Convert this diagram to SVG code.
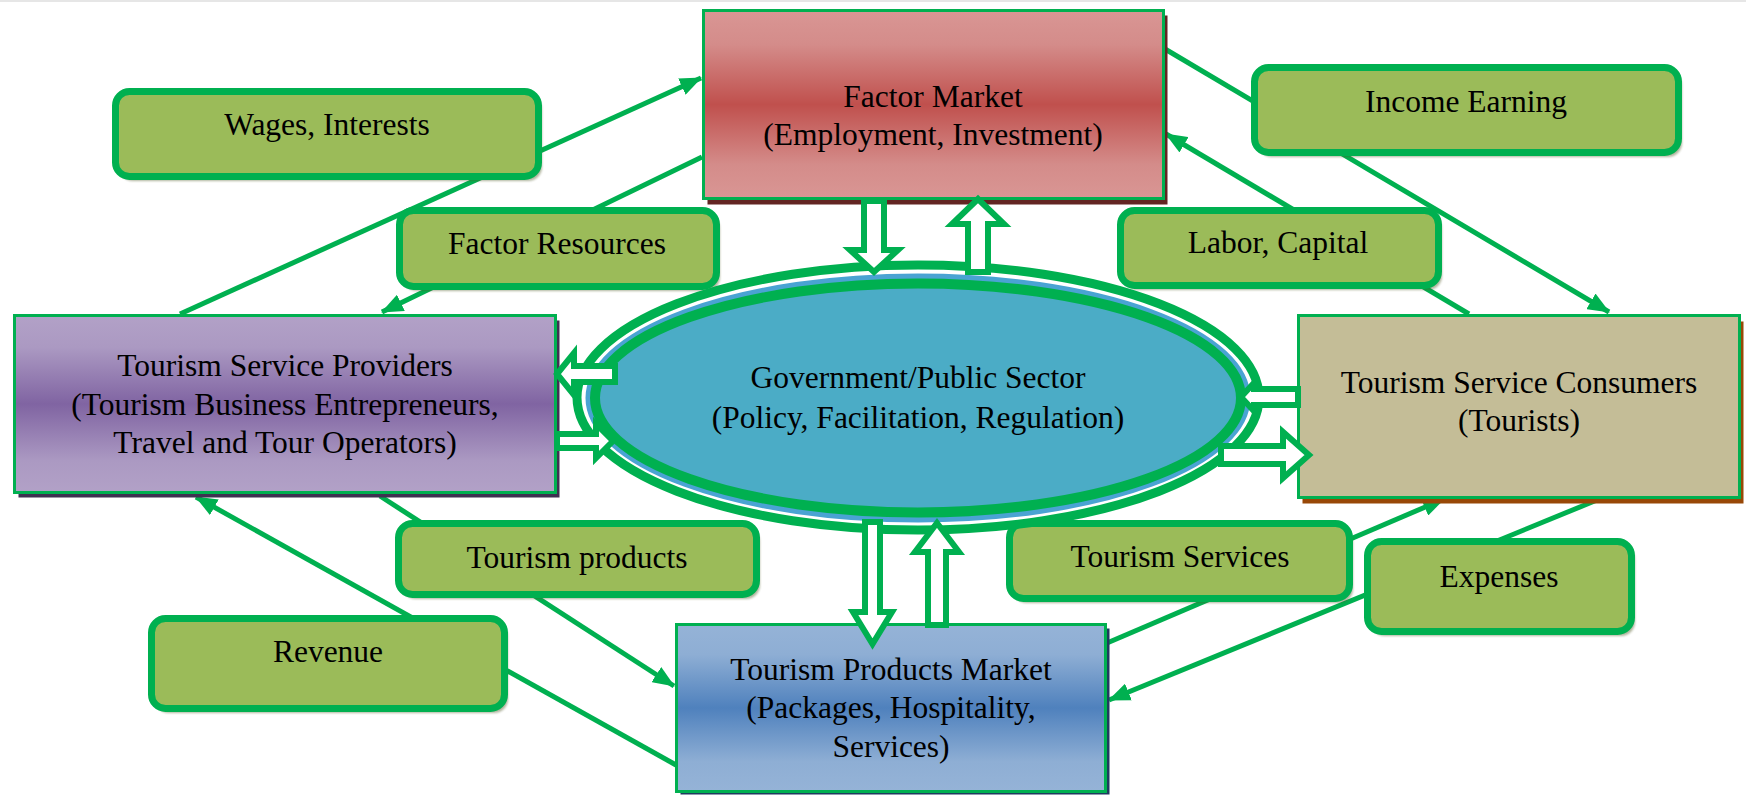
<svg xmlns="http://www.w3.org/2000/svg" width="1746" height="796" viewBox="0 0 1746 796">
  <defs>
    <style>
      text { font-family: "Liberation Serif", "Times New Roman", serif; font-size: 31.5px; fill: #000; text-anchor: middle; }
      .box { stroke: #00b050; stroke-width: 3; }
      .tag { fill: #9bbb59; stroke: #00b050; stroke-width: 7; }
      .tagshadow { fill: rgb(80,90,40); opacity: 0.45; filter: url(#soft); }
      .flow { fill: none; stroke: #00b050; stroke-width: 5; marker-end: url(#head); }
      .block { fill: #ffffff; stroke: #00b050; stroke-width: 6; stroke-linejoin: miter; }
    </style>
    <filter id="soft" x="-5%" y="-10%" width="110%" height="120%">
      <feGaussianBlur stdDeviation="1.2"/>
    </filter>
    <marker id="head" viewBox="0 0 22 18" refX="21" refY="9" markerWidth="22" markerHeight="18" markerUnits="userSpaceOnUse" orient="auto">
      <path d="M0,0 L22,9 L0,18 z" fill="#00b050"/>
    </marker>
    <linearGradient id="gRed" x1="0" y1="0" x2="0" y2="1">
      <stop offset="0" stop-color="#d99694"/>
      <stop offset="0.18" stop-color="#d48c8a"/>
      <stop offset="0.5" stop-color="#c0504d"/>
      <stop offset="0.82" stop-color="#d48c8a"/>
      <stop offset="1" stop-color="#d99694"/>
    </linearGradient>
    <linearGradient id="gPurple" x1="0" y1="0" x2="0" y2="1">
      <stop offset="0" stop-color="#b2a1c7"/>
      <stop offset="0.18" stop-color="#ab99c2"/>
      <stop offset="0.5" stop-color="#8064a2"/>
      <stop offset="0.82" stop-color="#ab99c2"/>
      <stop offset="1" stop-color="#b2a1c7"/>
    </linearGradient>
    <linearGradient id="gBlue" x1="0" y1="0" x2="0" y2="1">
      <stop offset="0" stop-color="#95b3d7"/>
      <stop offset="0.18" stop-color="#8eaed4"/>
      <stop offset="0.5" stop-color="#4f81bd"/>
      <stop offset="0.82" stop-color="#8eaed4"/>
      <stop offset="1" stop-color="#95b3d7"/>
    </linearGradient>
  </defs>

  <rect x="0" y="0" width="1746" height="796" fill="#ffffff"/>
  <rect x="0" y="0" width="1746" height="2" fill="#e6e6e6"/>

  <!-- flow lines between the four markets -->
  <g id="connectors">
    <line class="flow" x1="180" y1="314" x2="701" y2="78"/>
    <line class="flow" x1="702" y1="157" x2="382" y2="312"/>
    <line class="flow" x1="1165" y1="49" x2="1609" y2="312"/>
    <line class="flow" x1="1469" y1="314" x2="1166" y2="134"/>
    <line class="flow" x1="676" y1="765" x2="196" y2="497"/>
    <line class="flow" x1="380" y1="496" x2="674" y2="686"/>
    <line class="flow" x1="1107" y1="643" x2="1444" y2="499"/>
    <line class="flow" x1="1597" y1="500" x2="1109" y2="700"/>
  </g>

  <!-- flow labels -->
  <g id="label-wages">
    <rect class="tagshadow" x="119" y="96" width="423" height="85" rx="14"/>
    <rect class="tag" x="115.5" y="91.5" width="423" height="85" rx="14"/>
    <text x="327" y="135">Wages, Interests</text>
  </g>
  <g id="label-factor-resources">
    <rect class="tagshadow" x="403" y="215" width="317" height="76" rx="14"/>
    <rect class="tag" x="399.5" y="210.5" width="317" height="76" rx="14"/>
    <text x="557" y="254">Factor Resources</text>
  </g>
  <g id="label-income">
    <rect class="tagshadow" x="1258" y="72" width="424" height="85" rx="14"/>
    <rect class="tag" x="1254.5" y="67.5" width="424" height="85" rx="14"/>
    <text x="1466" y="112">Income Earning</text>
  </g>
  <g id="label-labor">
    <rect class="tagshadow" x="1124" y="215" width="318" height="75" rx="14"/>
    <rect class="tag" x="1120.5" y="210.5" width="318" height="75" rx="14"/>
    <text x="1278" y="253">Labor, Capital</text>
  </g>
  <g id="label-tourism-products">
    <rect class="tagshadow" x="402" y="528" width="358" height="71" rx="14"/>
    <rect class="tag" x="398.5" y="523.5" width="358" height="71" rx="14"/>
    <text x="577" y="568">Tourism products</text>
  </g>
  <g id="label-tourism-services">
    <rect class="tagshadow" x="1013" y="528" width="340" height="75" rx="14"/>
    <rect class="tag" x="1009.5" y="523.5" width="340" height="75" rx="14"/>
    <text x="1180" y="567">Tourism Services</text>
  </g>
  <g id="label-revenue">
    <rect class="tagshadow" x="155" y="623" width="353" height="90" rx="14"/>
    <rect class="tag" x="151.5" y="618.5" width="353" height="90" rx="14"/>
    <text x="328" y="662">Revenue</text>
  </g>
  <g id="label-expenses">
    <rect class="tagshadow" x="1371" y="546" width="264" height="90" rx="14"/>
    <rect class="tag" x="1367.5" y="541.5" width="264" height="90" rx="14"/>
    <text x="1499" y="587">Expenses</text>
  </g>

  <!-- markets -->
  <g id="node-factor-market">
    <rect x="707.5" y="15.5" width="460" height="189" fill="#632523"/>
    <rect class="box" x="703.5" y="10.5" width="460" height="188" fill="url(#gRed)"/>
    <text x="933" y="107">Factor Market</text>
    <text x="933" y="145">(Employment, Investment)</text>
  </g>
  <g id="node-providers">
    <rect x="18.5" y="320.5" width="541" height="177" fill="#3f3151"/>
    <rect class="box" x="14.5" y="315.5" width="541" height="177" fill="url(#gPurple)"/>
    <text x="285" y="376">Tourism Service Providers</text>
    <text x="285" y="415">(Tourism Business Entrepreneurs,</text>
    <text x="285" y="453">Travel and Tour Operators)</text>
  </g>
  <g id="node-consumers">
    <rect x="1302.5" y="321.5" width="441" height="182" fill="#984807"/>
    <rect class="box" x="1298.5" y="315.5" width="441" height="182" fill="#c4bd97"/>
    <text x="1519" y="393">Tourism Service Consumers</text>
    <text x="1519" y="431">(Tourists)</text>
  </g>
  <g id="node-products-market">
    <rect x="680.5" y="628.5" width="429" height="166" fill="#1f3a5f"/>
    <rect class="box" x="676.5" y="624.5" width="429" height="167" fill="url(#gBlue)"/>
    <text x="891" y="680">Tourism Products Market</text>
    <text x="891" y="718">(Packages, Hospitality,</text>
    <text x="891" y="757">Services)</text>
  </g>

  <!-- government at the centre -->
  <g id="node-government">
    <ellipse cx="918" cy="397.5" rx="341" ry="132.5" fill="#ffffff" stroke="#00b050" stroke-width="9"/>
    <ellipse cx="918" cy="398" rx="330" ry="122" fill="#4bacc6" stroke="#4aa3d3" stroke-width="5"/>
    <ellipse cx="918" cy="398" rx="323" ry="114.5" fill="none" stroke="#00b050" stroke-width="10"/>
    <text x="918" y="388">Government/Public Sector</text>
    <text x="918" y="428">(Policy, Facilitation, Regulation)</text>
  </g>

  <!-- two-way block arrows linking government with each market -->
  <g id="block-arrows">
    <polygon class="block" points="864,201 884,201 884,250 898,250 874,272 850,250 864,250"/>
    <polygon class="block" points="978,199 1004,224 988,224 988,272 968,272 968,224 952,224"/>
    <polygon class="block" points="865,522 880,522 880,612 892,612 872.5,644 853,612 865,612"/>
    <polygon class="block" points="937,523 959,552 946,552 946,625 928,625 928,552 915,552"/>
    <polygon class="block" points="557,374 574,353 574,366 615,366 615,382 574,382 574,395"/>
    <polygon class="block" points="557,434 596,434 596,424 613,441 596,458 596,448 557,448"/>
    <polygon class="block" points="1241,397 1254,383 1254,389 1298,389 1298,405 1254,405 1254,411"/>
    <polygon class="block" points="1221,446 1283,446 1283,432 1309,455 1283,478 1283,464 1221,464"/>
  </g>
</svg>
